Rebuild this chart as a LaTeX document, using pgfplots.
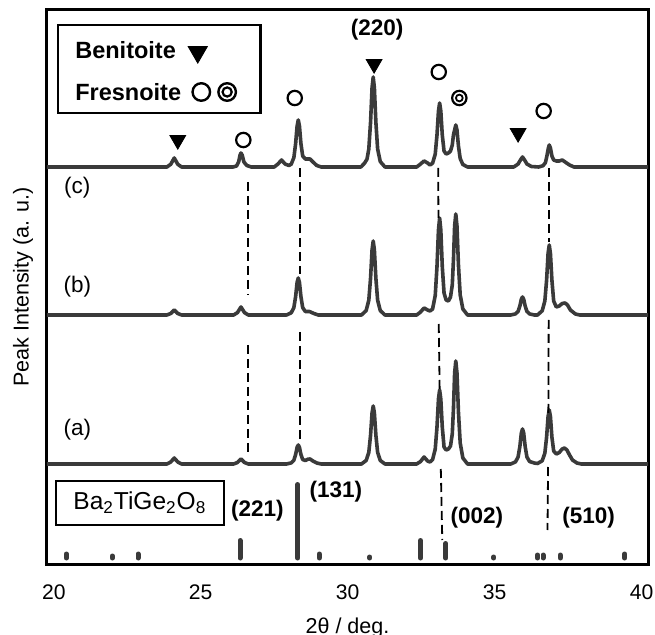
\documentclass[border=0pt]{standalone}
\usepackage{pgfplots}
\pgfplotsset{compat=1.18}
\usepackage{fontspec}
\setmainfont{Liberation Sans}
\definecolor{trace}{HTML}{3A3A3A}
\tikzset{dashln/.style={black, line width=0.9bp, dash pattern=on 4.5bp off 2.5bp}}

\begin{document}
\begin{tikzpicture}
\begin{axis}[
    width=300.5bp, height=277bp, scale only axis,
    xmin=19.77, xmax=40.22,
    ymin=0, ymax=554,
    xtick={20,25,30,35,40},
    ytick=\empty,
    major tick length=0pt,
    axis line style={line width=1.5bp},
    /pgf/number format/assume math mode=true,
    ticklabel style={font=\fontsize{10.6}{12}\selectfont},
    xticklabel style={anchor=center, yshift=-14bp},
    xlabel={2θ / deg.},
    ylabel={Peak Intensity (a. u.)},
    label style={font=\fontsize{10.8}{12}\selectfont},
    x label style={at={(axis description cs:0.5,-0.1155)}, anchor=center},
    y label style={at={(axis description cs:-0.04,0.5)}, anchor=center},
    clip=false,
]
% (a)
\addplot[trace, line width=1.8bp, line join=round] table[x=x, y expr=\thisrow{y}+100] {
x y
19.77 0
23.85 0
23.98 2
24.1 6
24.22 2
24.35 0
26.12 0
26.25 1.5
26.37 5
26.49 1.5
26.62 0
27.92 0
28.08 1.1
28.17 3.8
28.23 9.5
28.28 16.7
28.32 19
28.36 16.7
28.41 9.5
28.47 4.5
28.56 3.5
28.65 4.8
28.72 5
28.82 3
28.95 1
29.1 0
30.47 0
30.63 3.5
30.72 11.6
30.78 29
30.83 51
30.87 58
30.91 51
30.96 29
31.02 11.6
31.11 3.5
31.27 0
32.35 0
32.48 2.5
32.6 7
32.72 3
32.8 2
32.89 4.4
32.98 14.8
33.04 37
33.09 65
33.13 74
33.17 65
33.22 37
33.28 17
33.35 14
33.43 15
33.5 18
33.56 30
33.6 55
33.64 91
33.68 103
33.72 91
33.77 52
33.83 21
33.92 6
34.08 0
35.55 0
35.71 2.1
35.8 7
35.86 17.5
35.91 31
35.95 35
35.99 31
36.04 17.5
36.1 7
36.19 2.5
36.35 1
36.46 0.5
36.62 3.2
36.71 10.8
36.77 27
36.82 47.5
36.86 54
36.9 47.5
36.95 27
37.01 13
37.1 10
37.2 11.5
37.3 15
37.38 16
37.46 14
37.55 9
37.65 4
37.8 1
37.95 0
40.22 0
};
% (b)
\addplot[trace, line width=1.8bp, line join=round] table[x=x, y expr=\thisrow{y}+249] {
x y
19.77 0
23.85 0
23.98 1.5
24.1 5
24.22 1.5
24.35 0
26.12 0
26.25 2.4
26.37 8
26.49 2.4
26.62 0
27.92 0
28.08 2.2
28.17 7.4
28.23 18.5
28.28 32.6
28.32 37
28.36 32.6
28.41 18.5
28.47 7.4
28.56 3.5
28.7 3.5
28.85 1.5
29.0 0
30.47 0
30.63 4.4
30.72 14.8
30.78 37
30.83 65
30.87 74
30.91 65
30.96 37
31.02 14.8
31.11 4.4
31.27 0
32.35 0
32.48 3
32.6 7
32.72 5
32.8 4
32.89 6
32.98 19.4
33.04 48.5
33.09 85
33.13 97
33.17 85
33.22 48.5
33.28 22
33.35 15
33.43 14
33.5 18
33.56 30
33.6 55
33.64 89
33.68 101
33.72 89
33.77 50
33.83 20
33.92 6
34.08 0
35.55 0
35.71 1.1
35.8 3.6
35.86 9
35.91 15.8
35.95 18
35.99 15.8
36.04 9
36.1 3.6
36.19 1.1
36.35 0
36.46 0
36.62 4.2
36.71 14
36.77 35
36.82 61.6
36.86 70
36.9 61.6
36.95 35
37.01 14
37.1 8
37.2 9
37.3 11.5
37.4 12
37.48 10
37.58 5
37.75 1
37.9 0
40.22 0
};
% (c)
\addplot[trace, line width=1.8bp, line join=round] table[x=x, y expr=\thisrow{y}+397] {
x y
19.77 0
23.85 0
23.98 2.7
24.1 9
24.22 2.7
24.35 0
26.1 0
26.22 1
26.29 5
26.34 12
26.37 14
26.41 12
26.47 5
26.57 1.5
26.72 0
27.5 0
27.63 3
27.75 7
27.87 3
28.0 1.5
28.08 2.8
28.17 9.4
28.23 23.5
28.28 41
28.32 47
28.36 41
28.41 23.5
28.47 11
28.56 8
28.65 8
28.72 8
28.82 5
28.95 1.5
29.1 0
30.45 0
30.58 4
30.66 8
30.72 18
30.78 45
30.83 79
30.87 90
30.91 79
30.96 45
31.02 18
31.11 5.4
31.27 0
32.35 0
32.48 3
32.6 6
32.72 4
32.8 2
32.89 3.8
32.98 12.8
33.04 32
33.09 56
33.13 64
33.17 56
33.22 32
33.28 16
33.35 13
33.43 14
33.5 16
33.56 22
33.6 32
33.64 37
33.68 42
33.72 37
33.77 21
33.83 8.4
33.92 2.5
34.08 0
35.65 0
35.8 3
35.88 7
35.95 10
36.02 7
36.1 3
36.25 0.5
36.5 0
36.65 1.3
36.73 4.4
36.78 11
36.83 19
36.86 22
36.9 19
36.95 11
37.01 7
37.1 6
37.2 6
37.3 7
37.4 5
37.55 2
37.7 0
40.22 0
};
% reference sticks Ba2TiGe2O8
\addplot[trace, line width=2.5bp, line cap=round, unbounded coords=jump] coordinates {
(20.43,6)(20.43,10) (20.43,nan)
(21.99,6)(21.99,8) (21.99,nan)
(22.87,6)(22.87,10) (22.87,nan)
(26.34,6)(26.34,23.5) (26.34,nan)
(28.30,6)(28.30,79.5) (28.30,nan)
(29.03,6)(29.03,10) (29.03,nan)
(30.75,6)(30.75,7) (30.75,nan)
(32.48,6)(32.48,23.5) (32.48,nan)
(33.34,6)(33.34,20.5) (33.34,nan)
(34.97,6)(34.97,7) (34.97,nan)
(36.46,6)(36.46,9) (36.46,nan)
(36.65,6)(36.65,9) (36.65,nan)
(37.23,6)(37.23,9) (37.23,nan)
(39.43,6)(39.43,10)
};
% dashed guide lines
\addplot[dashln] coordinates {(26.6,382)(26.6,269)};
\addplot[dashln] coordinates {(26.6,219)(26.6,112)};
\addplot[dashln] coordinates {(28.38,396)(28.38,290)};
\addplot[dashln] coordinates {(28.38,232)(28.38,121)};
\addplot[dashln] coordinates {(33.08,396)(33.09,346)};
\addplot[dashln] coordinates {(33.1,240)(33.13,175)};
\addplot[dashln] coordinates {(33.17,95)(33.22,24)};
\addplot[dashln] coordinates {(36.84,396)(36.84,322)};
\addplot[dashln] coordinates {(36.84,244)(36.83,150)};
\addplot[dashln] coordinates {(36.82,97)(36.8,34)};
% phase markers
\addplot[only marks, mark=triangle*, mark size=4.6pt, mark options={rotate=180, fill=black, draw=black}]
  coordinates {(24.22,424)(30.9,500)(35.8,431)};
\addplot[only marks, mark=o, mark size=3.6pt, mark options={line width=1.1bp, draw=black}]
  coordinates {(26.45,424)(28.2,466)(33.1,492)(36.67,453)(33.8,466)};
\addplot[only marks, mark=o, mark size=1.7pt, mark options={line width=0.9bp, draw=black}]
  coordinates {(33.8,466)};
% legend symbols
\addplot[only marks, mark=triangle*, mark size=5.6pt, mark options={rotate=180, fill=black, draw=black}]
  coordinates {(24.9,512)};
\addplot[only marks, mark=o, mark size=4.4pt, mark options={line width=1.2bp, draw=black}]
  coordinates {(25.02,472)(25.9,472)};
\addplot[only marks, mark=o, mark size=2.3pt, mark options={line width=1.1bp, draw=black}]
  coordinates {(25.9,472)};
% boxes and labels
\draw[line width=1.2bp] (axis cs:20.14,539) rectangle (axis cs:27.03,451);
\node[anchor=west, inner sep=0, font=\fontsize{11.8}{13}\selectfont\bfseries] at (axis cs:20.72,514) {Benitoite};
\node[anchor=west, inner sep=0, font=\fontsize{11.8}{13}\selectfont\bfseries] at (axis cs:20.72,472) {Fresnoite};
\draw[line width=1.2bp] (axis cs:20.07,83) rectangle (axis cs:25.8,39);
\node[font=\fontsize{12.3}{13}\selectfont] at (axis cs:22.93,61) {Ba\textsubscript{2}TiGe\textsubscript{2}O\textsubscript{8}};
\node[font=\fontsize{11.3}{13}\selectfont\bfseries] at (axis cs:31.0,534) {(220)};
\node[font=\fontsize{11.3}{13}\selectfont\bfseries] at (axis cs:26.93,53) {(221)};
\node[font=\fontsize{11.3}{13}\selectfont\bfseries] at (axis cs:29.6,72) {(131)};
\node[font=\fontsize{11.3}{13}\selectfont\bfseries] at (axis cs:34.4,46) {(002)};
\node[font=\fontsize{11.3}{13}\selectfont\bfseries] at (axis cs:38.2,46) {(510)};
\node[font=\fontsize{11.3}{13}\selectfont] at (axis cs:20.8,376) {(c)};
\node[font=\fontsize{11.3}{13}\selectfont] at (axis cs:20.8,277) {(b)};
\node[font=\fontsize{11.3}{13}\selectfont] at (axis cs:20.8,134) {(a)};
\coordinate (bl) at (rel axis cs:0,0);
\coordinate (tr) at (rel axis cs:1,1);
\end{axis}
\pgfresetboundingbox
\path ([xshift=-23.5bp,yshift=-35.5bp]bl) rectangle ([xshift=3.5bp,yshift=5bp]tr);
\end{tikzpicture}
\end{document}
